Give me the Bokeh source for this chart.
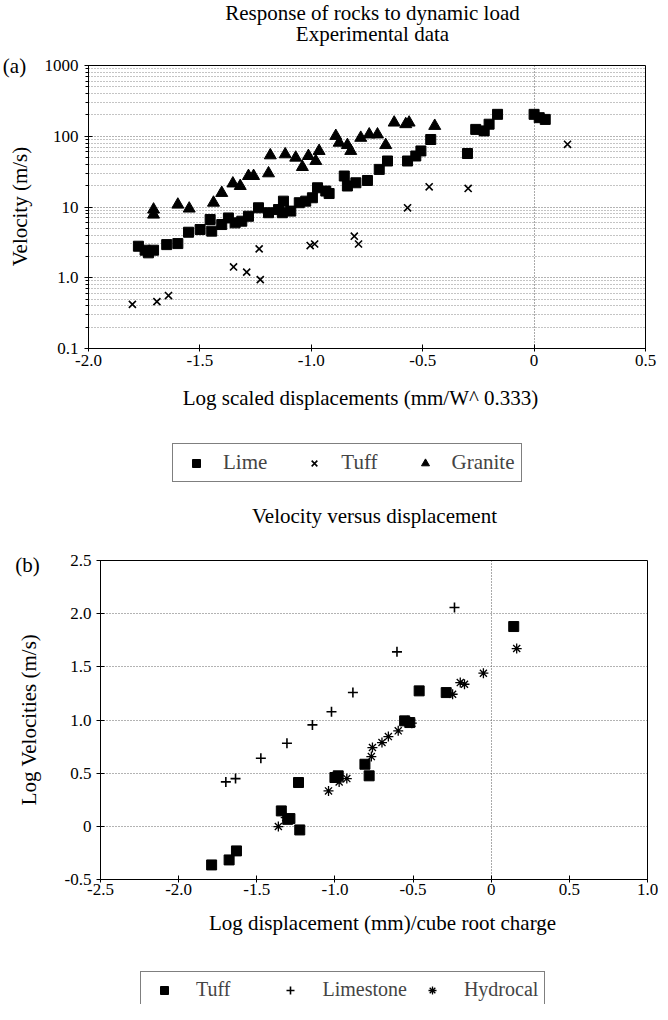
import math
from bokeh.plotting import figure
from bokeh.models import (FixedTicker, Label, Legend, LegendItem, Range1d, LinearAxis)
from bokeh.layouts import column
from bokeh.embed import file_html
from bokeh.resources import INLINE

FONT = "Liberation Serif"

# ---------------- data: (a) Response of rocks to dynamic load ----------------
lime_x = [-1.776, -1.746, -1.731, -1.708, -1.649, -1.599, -1.551, -1.499, -1.454, -1.447,
          -1.402, -1.372, -1.342, -1.312, -1.282, -1.237, -1.192, -1.147, -1.125, -1.13,
          -1.092, -1.054, -1.025, -0.995, -0.972, -0.935, -0.92, -0.852, -0.838, -0.80,
          -0.748, -0.695, -0.658, -0.568, -0.531, -0.508, -0.464, -0.299, -0.262, -0.224,
          -0.202, -0.164, 0.0, 0.023, 0.05]
lime_y = [2.79, 2.45, 2.25, 2.45, 2.94, 3.04, 4.4, 4.8, 6.65, 4.56,
          5.65, 7.0, 5.97, 6.3, 7.4, 9.75, 8.3, 9.2, 12.1, 8.3,
          8.75, 11.5, 12.1, 13.5, 18.7, 16.8, 15.5, 27.4, 19.8, 22.0,
          23.7, 34.0, 44.7, 44.7, 52.6, 62.0, 90.0, 57.0, 125.0, 119.0,
          148.0, 204.0, 204.0, 183.0, 173.0]

tuffa_x = [-1.803, -1.693, -1.641, -1.349, -1.29, -1.229, -1.234, -1.005, -0.985,
           -0.807, -0.788, -0.568, -0.471, -0.296, 0.15]
tuffa_y = [0.42, 0.46, 0.56, 1.42, 1.2, 0.94, 2.56, 2.85, 3.0,
           3.87, 3.0, 9.75, 19.3, 18.3, 77.0]

granite_x = [-1.708, -1.708, -1.599, -1.548, -1.439, -1.402, -1.352, -1.319, -1.282, -1.259,
             -1.192, -1.184, -1.117, -1.07, -1.04, -1.013, -0.98, -0.965, -0.89, -0.875,
             -0.838, -0.823, -0.778, -0.74, -0.703, -0.666, -0.628, -0.576, -0.561, -0.446]
granite_y = [9.2, 7.8, 10.8, 9.5, 11.5, 15.8, 21.5, 19.8, 27.4, 27.4,
             29.9, 53.7, 55.5, 49.8, 36.7, 52.5, 44.7, 61.9, 101.0, 81.0,
             75.0, 62.0, 95.0, 106.0, 106.0, 75.0, 156.0, 148.0, 156.0, 140.0]

# ---------------- data: (b) Velocity versus displacement ----------------
tuffb_x = [0.144, -0.461, -0.288, -0.554, -0.521, -0.808, -0.781, -1.0, -0.979, -1.233,
           -1.343, -1.302, -1.288, -1.225, -1.63, -1.677, -1.789]
tuffb_y = [1.879, 1.274, 1.258, 0.992, 0.976, 0.584, 0.475, 0.459, 0.475, 0.412,
           0.145, 0.066, 0.073, -0.034, -0.231, -0.316, -0.363]

lime_b_x = [-0.235, -0.603, -0.885, -1.022, -1.144, -1.307, -1.474, -1.698, -1.636]
lime_b_y = [2.058, 1.641, 1.258, 1.077, 0.954, 0.781, 0.64, 0.418, 0.449]

hydro_x = [0.163, -0.05, -0.198, -0.171, -0.247, -0.508, -0.535, -0.595, -0.658, -0.699,
           -0.76, -0.767, -0.924, -0.973, -1.041, -1.362, -1.315]
hydro_y = [1.672, 1.44, 1.352, 1.336, 1.242, 0.97, 0.992, 0.898, 0.844, 0.788,
           0.741, 0.656, 0.449, 0.418, 0.333, -0.002, 0.082]

# tick labels
a_xticks = [-2.0, -1.5, -1.0, -0.5, 0.0, 0.5]
a_xlabels = ["-2.0", "-1.5", "-1.0", "-0.5", "0", "0.5"]
a_yticks = [0.1, 1.0, 10.0, 100.0, 1000.0]
a_ylabels = ["0.1", "1.0", "10", "100", "1000"]
b_xticks = [-2.5, -2.0, -1.5, -1.0, -0.5, 0.0, 0.5, 1.0]
b_xlabels = ["-2.5", "-2.0", "-1.5", "-1.0", "-0.5", "0", "0.5", "1.0"]
b_yticks = [-0.5, 0.0, 0.5, 1.0, 1.5, 2.0, 2.5]
b_ylabels = ["-0.5", "0", "0.5", "1.0", "1.5", "2.0", "2.5"]

# ---------------- layout (page pixels) ----------------
W = 658
H1 = 500
H2 = 504
PG = 8
T_L, T_R, T_T, T_B = 96, 653, 73, 356      # plot box of (a) on the page
B_L, B_R, B_T, B_B = 108, 655, 568, 887    # plot box of (b) on the page
TOP0 = PG
BOT0 = PG + H1

akx = (T_R - T_L) / 2.5
aky = (T_B - T_T) / 4.0
bkx = (B_R - B_L) / 3.5
bky = (B_B - B_T) / 3.0

a_xr = Range1d(-2.0 - (T_L - PG) / akx, 0.5 + (PG + W - T_R) / akx)
a_yr = Range1d(10 ** (-1 - (TOP0 + H1 - T_B) / aky), 10 ** (3 + (T_T - TOP0) / aky))
b_xr = Range1d(-2.5 - (B_L - PG) / bkx, 1.0 + (PG + W - B_R) / bkx)
b_yr = Range1d(-0.5 - (BOT0 + H2 - B_B) / bky, 2.5 + (B_T - BOT0) / bky)


def ax_px(px):
    return -2.0 + (px - T_L) / akx


def ay_px(py):
    return 10 ** (3 - (py - T_T) / aky)


def bx_px(px):
    return -2.5 + (px - B_L) / bkx


def by_px(py):
    return 2.5 - (py - B_T) / bky


def lab(p, x, y, text, size="21px", angle=0.0):
    p.add_layout(Label(x=x, y=y, text=text, text_font=FONT, text_font_size=size,
                       text_align="center", text_baseline="middle", angle=angle,
                       text_color="black"))


def make_fig(h, xr, yr, ylog):
    p = figure(width=W, height=h, x_range=xr, y_range=yr,
               y_axis_type="log" if ylog else "linear",
               output_backend="svg", toolbar_location=None,
               min_border=0, min_border_left=0, min_border_right=0,
               min_border_top=0, min_border_bottom=0)
    p.title.text = ""
    p.outline_line_color = None
    p.background_fill_color = "white"
    p.border_fill_color = "white"
    return p


def style_axis(ax):
    ax.axis_line_color = "black"
    ax.axis_line_width = 1
    ax.major_tick_line_color = "black"
    ax.minor_tick_line_color = None
    ax.major_label_text_font = FONT
    ax.major_label_text_font_size = "17px"
    ax.major_label_text_color = "black"


def frame_line(p, place, loc, bounds):
    a = LinearAxis(fixed_location=loc, bounds=bounds, ticker=FixedTicker(ticks=[]),
                   axis_line_color="black", axis_line_width=1,
                   major_tick_line_color=None, minor_tick_line_color=None,
                   major_label_text_font_size="0px")
    p.add_layout(a, place)


def legend(items, loc, glyph_w, standoff, spacing, size):
    return Legend(items=items, orientation="horizontal", location=loc, margin=0,
                  padding=6, spacing=spacing, glyph_width=glyph_w, glyph_height=20,
                  label_standoff=standoff, label_height=20, label_text_font=FONT,
                  label_text_font_size=size, border_line_color="black", border_line_width=1,
                  background_fill_color="white", background_fill_alpha=1)


# ================= (a) =================
p1 = make_fig(H1, a_xr, a_yr, True)
xa, ya = p1.xaxis[0], p1.yaxis[0]
style_axis(xa)
style_axis(ya)
xa.fixed_location = 0.1
xa.bounds = (-2.0, 0.5)
ya.fixed_location = -2.0
ya.bounds = (0.1, 1000.0)
minors = [d * k for d in (0.1, 1.0, 10.0, 100.0) for k in range(2, 10)]
ya.ticker = FixedTicker(ticks=a_yticks, minor_ticks=minors)
ya.major_label_overrides = dict(zip(a_yticks, a_ylabels))
ya.minor_tick_line_color = "black"
ya.major_tick_in = 4
ya.major_tick_out = 4
ya.minor_tick_in = 0
ya.minor_tick_out = 3
ya.major_label_standoff = 6
xa.ticker = FixedTicker(ticks=a_xticks)
xa.major_label_overrides = dict(zip(a_xticks, a_xlabels))
xa.major_tick_in = 4
xa.major_tick_out = 3
xa.major_label_standoff = 3
frame_line(p1, "right", 0.5, (0.1, 1000.0))
frame_line(p1, "above", 1000.0, (-2.0, 0.5))

p1.ygrid.grid_line_color = "#666666"
p1.ygrid.grid_line_dash = "1 2"
p1.ygrid.minor_grid_line_color = "#888888"
p1.ygrid.minor_grid_line_dash = "1 2"
p1.ygrid.cross_bounds = (-2.0, 0.5)
p1.xgrid.ticker = FixedTicker(ticks=[0.0])
p1.xgrid.grid_line_color = "#555555"
p1.xgrid.grid_line_dash = "1 2"
p1.xgrid.cross_bounds = (0.1, 1000.0)

r_lime = p1.scatter(lime_x, lime_y, marker="square", size=10, color="black")
r_tuffa = p1.scatter(tuffa_x, tuffa_y, marker="x", size=10, line_color="black", line_width=1.6)
r_gran = p1.scatter(granite_x, granite_y, marker="triangle", size=12, color="black")

lab(p1, ax_px(380), ay_px(20), "Response of rocks to dynamic load")
lab(p1, ax_px(380), ay_px(41), "Experimental data")
lab(p1, ax_px(22), ay_px(73), "(a)")
lab(p1, ax_px(27), ay_px(214), "Velocity (m/s)", angle=math.pi / 2)
lab(p1, ax_px(368), ay_px(405), "Log scaled displacements (mm/W^ 0.333)")

leg1 = legend([LegendItem(label="Lime", renderers=[r_lime]),
               LegendItem(label="Tuff", renderers=[r_tuffa]),
               LegendItem(label="Granite", renderers=[r_gran])],
              (180 - PG, TOP0 + H1 - 490), 34, 10, 30, "21px")
p1.add_layout(leg1)

# ================= (b) =================
p2 = make_fig(H2, b_xr, b_yr, False)
xb, yb = p2.xaxis[0], p2.yaxis[0]
style_axis(xb)
style_axis(yb)
xb.fixed_location = -0.5
xb.bounds = (-2.5, 1.0)
yb.fixed_location = -2.5
yb.bounds = (-0.5, 2.5)
yb.ticker = FixedTicker(ticks=b_yticks)
yb.major_label_overrides = dict(zip(b_yticks, b_ylabels))
yb.major_tick_in = 4
yb.major_tick_out = 4
yb.major_label_standoff = 5
xb.ticker = FixedTicker(ticks=b_xticks)
xb.major_label_overrides = dict(zip(b_xticks, b_xlabels))
xb.major_tick_in = 4
xb.major_tick_out = 3
xb.major_label_standoff = 1
frame_line(p2, "right", 1.0, (-0.5, 2.5))
frame_line(p2, "above", 2.5, (-2.5, 1.0))

p2.ygrid.ticker = FixedTicker(ticks=[0.0, 0.5, 1.0, 1.5, 2.0])
p2.ygrid.grid_line_color = "#666666"
p2.ygrid.grid_line_dash = "1 2"
p2.ygrid.cross_bounds = (-2.5, 1.0)
p2.xgrid.ticker = FixedTicker(ticks=[0.0])
p2.xgrid.grid_line_color = "#555555"
p2.xgrid.grid_line_dash = "1 2"
p2.xgrid.cross_bounds = (-0.5, 2.5)

r_tuffb = p2.scatter(tuffb_x, tuffb_y, marker="square", size=10, color="black")
r_limeb = p2.scatter(lime_b_x, lime_b_y, marker="cross", size=10, line_color="black", line_width=1.6)
r_hydro = p2.scatter(hydro_x, hydro_y, marker="asterisk", size=10, line_color="black", line_width=1.3)

lab(p2, bx_px(382), by_px(523), "Velocity versus displacement")
lab(p2, bx_px(35), by_px(572), "(b)")
lab(p2, bx_px(36), by_px(727), "Log Velocities (m/s)", angle=math.pi / 2)
lab(p2, bx_px(390), by_px(930), "Log displacement (mm)/cube root charge")

NB = "\u00a0"
leg2 = legend([LegendItem(label="Tuff" + NB * 7, renderers=[r_tuffb]),
               LegendItem(label="Limestone", renderers=[r_limeb]),
               LegendItem(label="Hydrocal", renderers=[r_hydro])],
              (148 - PG, BOT0 + H2 - 1016), 34, 15, 8, "20px")
p2.add_layout(leg2)

layout = column(p1, p2)
open("out.html", "w").write(file_html(layout, INLINE))
